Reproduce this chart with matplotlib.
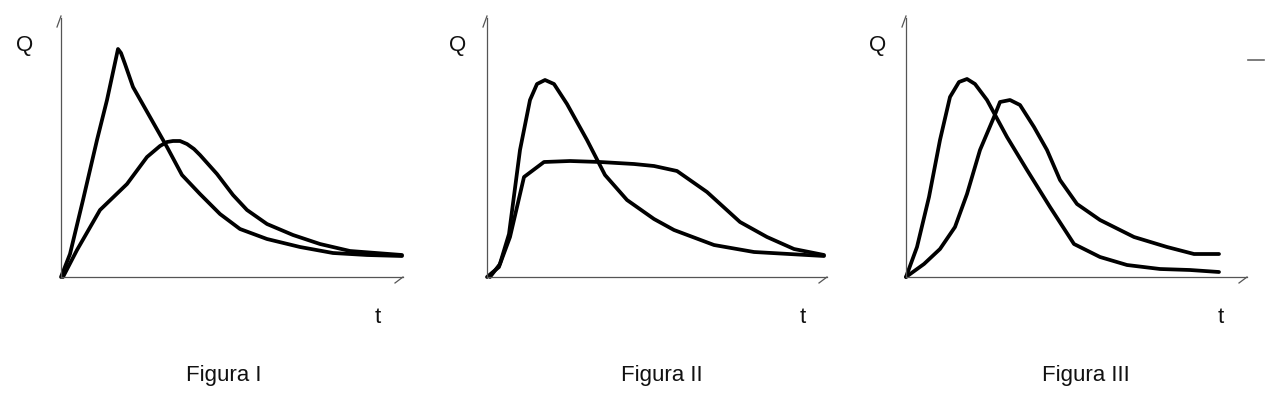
import matplotlib.pyplot as plt
from matplotlib.lines import Line2D

plt.rcParams['font.family'] = ['Liberation Sans', 'DejaVu Sans']

W, H = 1269, 396

# Figura I
t1a = [0, 9, 22, 36, 46, 57, 60, 64, 72, 89, 106, 121, 139, 159, 179, 206, 239, 272, 306, 341]
q1a = [0, 23, 77, 137, 177, 228, 224, 213, 190, 160, 130, 102, 83, 63, 48, 38, 30, 24, 22, 21]
t1b = [2, 16, 39, 66, 86, 99, 106, 112, 119, 126, 133, 139, 156, 172, 186, 206, 232, 259, 289, 341]
q1b = [0, 27, 67, 93, 120, 131, 135, 136, 136, 133, 128, 122, 103, 82, 67, 53, 42, 33, 26, 22]

# Figura II
t2a = [0, 12, 22, 33, 43, 50, 58, 67, 80, 100, 118, 140, 167, 187, 227, 267, 337]
q2a = [0, 10, 43, 127, 177, 193, 197, 193, 173, 137, 102, 77, 58, 47, 32, 25, 21]
t2b = [3, 13, 23, 37, 57, 83, 113, 147, 167, 190, 220, 253, 280, 307, 337]
q2b = [0, 13, 40, 100, 115, 116, 115, 113, 111, 106, 85, 55, 40, 28, 22]

# Figura III
t3a = [0, 11, 23, 34, 44, 53, 61, 69, 81, 101, 121, 144, 168, 194, 221, 254, 284, 313]
q3a = [0, 30, 80, 137, 180, 195, 198, 193, 177, 140, 107, 70, 33, 20, 12, 8, 7, 5]
t3b = [0, 18, 34, 49, 61, 74, 88, 94, 104, 114, 128, 141, 154, 171, 194, 228, 261, 288, 313]
q3b = [0, 13, 28, 50, 83, 127, 160, 175, 177, 172, 150, 127, 97, 73, 57, 40, 30, 23, 23]

titles = ['Figura I', 'Figura II', 'Figura III']
series = [((t1a, q1a), (t1b, q1b)),
          ((t2a, q2a), (t2b, q2b)),
          ((t3a, q3a), (t3b, q3b))]

# origin x (px), x-axis length, Q label x, t label x, title x
origins = [61, 487, 906]
lengths = [342, 340, 341]
q_x = [25, 458, 878]
t_x = [378, 803, 1221]
title_x = [224, 662, 1086]
y0, ytop = 277, 18

fig = plt.figure(figsize=(W / 100, H / 100), dpi=100)

for i in range(3):
    x0, L = origins[i], lengths[i]
    ax = fig.add_axes([x0 / W, (H - y0) / H, L / W, (y0 - ytop) / H])
    ax.set_xlim(0, L)
    ax.set_ylim(0, y0 - ytop)
    for s in ['top', 'right']:
        ax.spines[s].set_visible(False)
    for s in ['left', 'bottom']:
        ax.spines[s].set_color('#555555')
        ax.spines[s].set_linewidth(0.9)
    ax.set_xticks([])
    ax.set_yticks([])
    ax.patch.set_alpha(0)

    for t, q in series[i]:
        ax.plot(t, q, color='black', lw=2.7, solid_joinstyle='round',
                solid_capstyle='round', clip_on=False)

    # small arrow strokes at the axis ends
    ax.plot([-4, 0], [y0 - ytop - 9, y0 - ytop + 2], color='#555555', lw=0.9, clip_on=False)
    ax.plot([L - 8, L], [-6, 0], color='#555555', lw=0.9, clip_on=False)

    fig.text(q_x[i] / W, 1 - 51 / H, 'Q', fontsize=16, ha='center', va='baseline', color='#111111')
    fig.text(t_x[i] / W, 1 - 323 / H, 't', fontsize=16, ha='center', va='baseline', color='#111111')
    fig.text(title_x[i] / W, 1 - 381 / H, titles[i], fontsize=16, ha='center', va='baseline',
             color='#111111')

# stray dash at the right edge
fig.add_artist(Line2D([1248 / W, 1264 / W], [1 - 60 / H, 1 - 60 / H],
                      color='#666666', lw=1.2))

fig.savefig('out.png', dpi=100, facecolor='white')
